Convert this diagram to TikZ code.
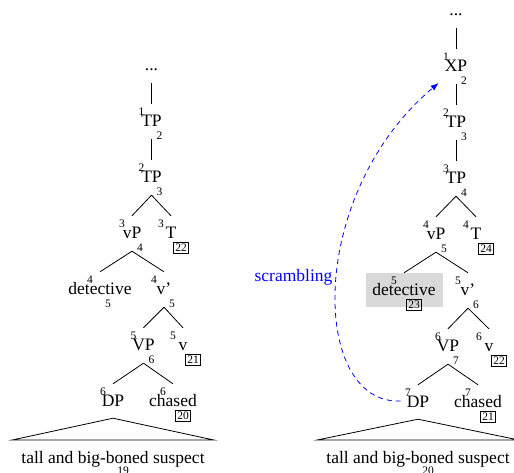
\documentclass[tikz,border=0pt]{standalone}
\usepackage{fontspec}
\setmainfont{Liberation Serif}
\usetikzlibrary{positioning, arrows.meta, backgrounds}

\tikzset{
  cat/.style={font=\fontsize{17.5}{21}\selectfont, inner sep=0pt, text height=12pt, text depth=0pt, anchor=base},
  idx/.style={font=\fontsize{11.5}{13}\selectfont, inner sep=0pt},
  numbox/.style={idx, draw, inner sep=1.5pt, line width=0.6pt},
  branch/.style={line width=0.8pt},
  move/.style={blue, line width=0.8pt, dash pattern=on 5pt off 4pt, -{Latex[length=8pt,width=6pt]}}
}

\begin{document}
\begin{tikzpicture}[x=1pt, y=-1pt]
  \useasboundingbox (0,0) rectangle (514,472);

  % Left tree
  \node[cat] (dotsL) at (151.5,70) {...};
  \node[cat] (tpL1) at (151.5,126) {TP};
  \node[cat] (tpL2) at (151.5,182) {TP};
  \node[cat] (vpL) at (132,238) {vP};
  \node[cat] (tL) at (171,238) {T};
  \node[cat] (detL) at (100,294) {detective};
  \node[cat] (vbL) at (164,294) {v'};
  \node[cat] (vpL2) at (143.5,350) {VP};
  \node[cat] (vL) at (183,350) {v};
  \node[cat] (dpL) at (113,406) {DP};
  \node[cat] (chL) at (173,406) {chased};
  \node[cat] (txtL) at (113,463) {tall and big-boned suspect};

  % Right tree (after scrambling)
  \node[cat] (dotsR) at (456,15) {...};
  \node[cat] (xpR) at (456,71) {XP};
  \node[cat] (tpR1) at (456,127) {TP};
  \node[cat] (tpR2) at (456,183) {TP};
  \node[cat] (vpR) at (436,239) {vP};
  \node[cat] (tR) at (476,239) {T};
  \node[cat] (detR) at (404,295) {detective};
  \node[cat] (vbR) at (468,295) {v'};
  \node[cat] (vpR2) at (448,351) {VP};
  \node[cat] (vR) at (489,351) {v};
  \node[cat] (dpR) at (418,407) {DP};
  \node[cat] (chR) at (478,407) {chased};
  \node[cat] (txtR) at (418,463) {tall and big-boned suspect};

  % Highlight
  \begin{scope}[on background layer]
    \fill[gray!30] ([shift={(-6,-10)}]detR.north west) rectangle ([shift={(7,12)}]detR.south east);
  \end{scope}

  % Branches
  \foreach \a/\b in {dotsL/tpL1, tpL1/tpL2, tpL2/vpL, tpL2/tL, vpL/detL, vpL/vbL, vbL/vpL2, vbL/vL, vpL2/dpL, vpL2/chL,
                     dotsR/xpR, xpR/tpR1, tpR1/tpR2, tpR2/vpR, tpR2/tR, vpR/detR, vpR/vbR, vbR/vpR2, vbR/vR, vpR2/dpR, vpR2/chR}
    \draw[branch] ([shift={(0,13)}]\a.south) -- ([shift={(0,-10)}]\b.north);

  % Triangles
  \draw[branch] ([shift={(0,12)}]dpL.south) -- ([shift={(9,-23)}]txtL.base east) -- ([shift={(-9,-23)}]txtL.base west) -- cycle;
  \draw[branch] ([shift={(0,12)}]dpR.south) -- ([shift={(9,-23)}]txtR.base east) -- ([shift={(-9,-23)}]txtR.base west) -- cycle;

  % Indices above
  \foreach \n/\s in {tpL1/1, tpL2/2, vpL/3, tL/3, detL/4, vbL/4, vpL2/5, vL/5, dpL/6, chL/6,
                     xpR/1, tpR1/2, tpR2/3, vpR/4, tR/4, detR/5, vbR/5, vpR2/6, vR/6, dpR/7, chR/7}
    \node[idx] at ([shift={(-10,-14.5)}]\n.base) {\s};

  % Indices below
  \foreach \n/\s in {tpL1/2, tpL2/3, vpL/4, detL/5, vbL/5, vpL2/6, xpR/2, tpR1/3, tpR2/4, vpR/5, vbR/6, vpR2/7}
    \node[idx] at ([shift={(8,10)}]\n.base) {\s};
  \node[idx] at ([shift={(10,8)}]txtL.base) {19};
  \node[idx] at ([shift={(10,8)}]txtR.base) {20};

  % Boxed indices
  \foreach \n/\s in {tL/22, vL/21, chL/20, tR/24, detR/23, vR/22, chR/21}
    \node[numbox] at ([shift={(10,10)}]\n.base) {\s};

  % Movement
  \coordinate (moveStart) at ([shift={(-6,-6)}]dpR.base west);
  \coordinate (moveEnd) at ([shift={(-6,12)}]xpR.base west);
  \draw[move] (moveStart) .. controls +(-90,4) and +(-133,112) .. (moveEnd);
  \node[cat, blue] (scr) at (293.5,281) {scrambling};
\end{tikzpicture}
\end{document}
